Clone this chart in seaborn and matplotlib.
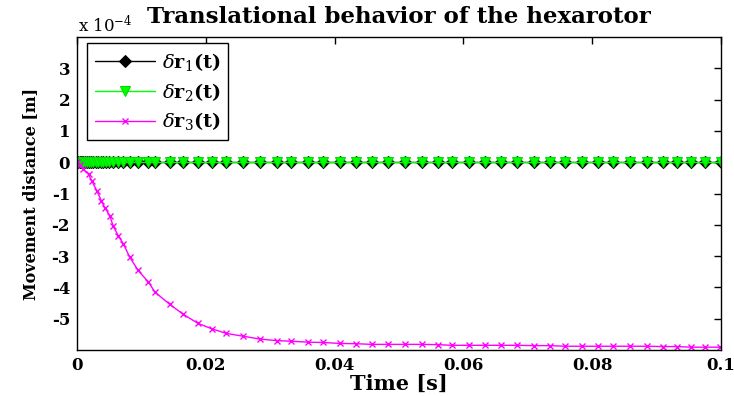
import matplotlib
matplotlib.use("Agg")
import matplotlib.pyplot as plt
import seaborn as sns

# time grid of the solver output (s)
t_r12 = [0.0, 0.0002, 0.0004, 0.0006, 0.0008, 0.001, 0.0013, 0.0016, 0.0019, 0.0022,
         0.0025, 0.0029, 0.0033, 0.0037, 0.0041, 0.0045, 0.0049, 0.0056, 0.0064, 0.0072,
         0.0082, 0.0095, 0.0111, 0.0121, 0.0144, 0.0165, 0.0188, 0.0209, 0.0232, 0.0258,
         0.0284, 0.031, 0.0333, 0.0359, 0.0382, 0.0408, 0.0434, 0.0458, 0.0483, 0.0509,
         0.0535, 0.0561, 0.0582, 0.0608, 0.0634, 0.0659, 0.0683, 0.0709, 0.0734, 0.0758,
         0.0784, 0.0809, 0.0833, 0.0859, 0.0885, 0.091, 0.0931, 0.0954, 0.0975, 0.1]
r1 = [0.0] * len(t_r12)
r2 = [0.0] * len(t_r12)

t_r3 = [0.0, 0.0005, 0.001, 0.0018, 0.0023, 0.0031, 0.0038, 0.0043, 0.0051, 0.0056,
        0.0064, 0.0072, 0.0082, 0.0095, 0.0111, 0.0121, 0.0144, 0.0165, 0.0188, 0.0209,
        0.0232, 0.0258, 0.0284, 0.031, 0.0333, 0.0359, 0.0382, 0.0408, 0.0434, 0.0458,
        0.0483, 0.0509, 0.0535, 0.0561, 0.0582, 0.0608, 0.0634, 0.0659, 0.0683, 0.0709,
        0.0734, 0.0758, 0.0784, 0.0809, 0.0833, 0.0859, 0.0885, 0.091, 0.0931, 0.0954,
        0.0975, 0.0998]
# values in units of 1e-4 m
r3 = [0.0, -0.1, -0.23, -0.39, -0.6, -0.92, -1.24, -1.45, -1.71, -2.03,
      -2.35, -2.61, -3.04, -3.46, -3.83, -4.15, -4.54, -4.86, -5.15, -5.32,
      -5.47, -5.56, -5.65, -5.70, -5.72, -5.75, -5.76, -5.79, -5.80, -5.82,
      -5.82, -5.82, -5.82, -5.83, -5.85, -5.85, -5.85, -5.85, -5.85, -5.86,
      -5.86, -5.88, -5.88, -5.88, -5.88, -5.88, -5.88, -5.89, -5.89, -5.91,
      -5.91, -5.91]

xticks = [0, 0.02, 0.04, 0.06, 0.08, 0.1]
xticklabels = ["0", "0.02", "0.04", "0.06", "0.08", "0.1"]
yticks = [-5, -4, -3, -2, -1, 0, 1, 2, 3]
yticklabels = ["-5", "-4", "-3", "-2", "-1", "0", "1", "2", "3"]
labels = [r"$\delta\mathbf{r}_{1}\mathbf{(t)}$",
          r"$\delta\mathbf{r}_{2}\mathbf{(t)}$",
          r"$\delta\mathbf{r}_{3}\mathbf{(t)}$"]

sns.set_style("white")
serif = ["DejaVu Serif"]
plt.rcParams["font.family"] = serif
plt.rcParams["mathtext.fontset"] = "dejavuserif"
plt.rcParams["axes.unicode_minus"] = False
plt.rcParams["text.color"] = "black"
plt.rcParams["axes.labelcolor"] = "black"
plt.rcParams["xtick.color"] = "black"
plt.rcParams["ytick.color"] = "black"

W, H = 734, 396
fig = plt.figure(figsize=(W / 100, H / 100), dpi=100)
L, R, T, B = 77, 721, 37, 350
ax = fig.add_axes([L / W, 1 - B / H, (R - L) / W, (B - T) / H])

sns.lineplot(x=t_r12, y=r1, ax=ax, color="black", marker="D", markersize=6.5,
             markeredgecolor="black", linewidth=1, label=labels[0])
sns.lineplot(x=t_r12, y=r2, ax=ax, color="#00ff00", marker="v", markersize=7.5,
             markeredgecolor="#00dd00", markeredgewidth=0.8, linewidth=1, label=labels[1])
sns.lineplot(x=t_r3, y=r3, ax=ax, color="#ff00ff", marker="x", markersize=4.5,
             markeredgecolor="#ff00ff", markeredgewidth=1, linewidth=1, label=labels[2])

ax.set_xlim(0, 0.1)
ax.set_ylim(-6, 4)
ax.set_xticks(xticks)
ax.set_xticklabels(xticklabels, fontweight="bold")
ax.set_yticks(yticks)
ax.set_yticklabels(yticklabels, fontweight="bold")
ax.tick_params(direction="in", length=5, width=1, labelsize=12, top=True, right=True,
               colors="black", pad=5)
for s in ax.spines.values():
    s.set_visible(True)
    s.set_color("black")
    s.set_linewidth(1)

leg = ax.legend(loc="upper left", bbox_to_anchor=(10 / (R - L), 1 - 6 / (B - T)),
                borderaxespad=0, fontsize=14, frameon=True, fancybox=False,
                edgecolor="black", framealpha=1, handlelength=3.1, handletextpad=0.35,
                borderpad=0.4, labelspacing=0.4)
leg.get_frame().set_linewidth(1)
for txt in leg.get_texts():
    txt.set_color("black")

fig.text((L + R) / 2 / W, 1 - 23 / H, "Translational behavior of the hexarotor",
         ha="center", va="baseline", fontsize=16.5, fontweight="bold", family=serif)
fig.text(78 / W, 1 - 32 / H, r"x 10$^{\mathregular{-4}}$", ha="left", va="baseline",
         fontsize=12, family=serif)
ax.set_xlabel("Time [s]", fontsize=15, fontweight="bold", family=serif, labelpad=0)
ax.set_ylabel("Movement distance [m]", fontsize=11.5, fontweight="bold",
              family=serif, labelpad=9)

fig.savefig("out.png", dpi=100)
